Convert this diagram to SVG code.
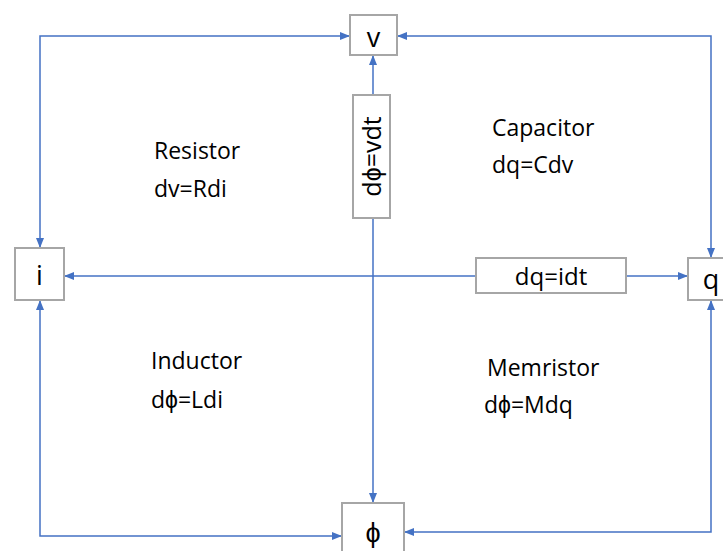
<svg xmlns="http://www.w3.org/2000/svg" width="723" height="551" viewBox="0 0 723 551">
<style>
.box{fill:#fff;stroke:#A6A6A6;stroke-width:2}
.ln{fill:none;stroke:#4472C4;stroke-width:1.5}
.t{font-family:"Open Sans","Liberation Sans",sans-serif;fill:#000}
.lbl{font-size:23px}
.nd{font-size:27px;text-anchor:middle}
</style>
<defs>
<marker id="ah" viewBox="0 0 10 8" refX="10" refY="4" markerWidth="10" markerHeight="8" markerUnits="userSpaceOnUse" orient="auto-start-reverse">
<path d="M0,0 L10,4 L0,8 z" fill="#4472C4"/>
</marker>
</defs>
<rect width="723" height="551" fill="#fff"/>
<g id="connectors">
<path class="ln" d="M350,36 H40 V248" marker-start="url(#ah)" marker-end="url(#ah)"/>
<path class="ln" d="M397,36 H711 V258" marker-start="url(#ah)" marker-end="url(#ah)"/>
<path class="ln" d="M40,300 V536 H342" marker-start="url(#ah)" marker-end="url(#ah)"/>
<path class="ln" d="M711,300 V532 H404" marker-start="url(#ah)" marker-end="url(#ah)"/>
<path class="ln" d="M373,95 V55" marker-end="url(#ah)"/>
<path class="ln" d="M373,218 V503" marker-end="url(#ah)"/>
<path class="ln" d="M476,276 H64" marker-end="url(#ah)"/>
<path class="ln" d="M626,276 H688" marker-end="url(#ah)"/>
</g>
<g id="node-v"><rect class="box" x="350" y="15" width="47" height="40"/><text class="t nd" x="373.5" y="47">v</text></g>
<g id="node-i"><rect class="box" x="15" y="248" width="49" height="52"/><text class="t nd" x="39.5" y="285">i</text></g>
<g id="node-q"><rect class="box" x="688" y="258" width="40" height="42"/><text class="t nd" x="711" y="289">q</text></g>
<g id="node-phi"><rect class="box" x="342" y="503" width="62" height="60"/><text class="t nd" x="373" y="542">ϕ</text></g>
<g id="node-dphi"><rect class="box" x="353" y="95" width="37" height="123"/><text class="t" font-size="25" text-anchor="middle" transform="translate(381,156.5) rotate(-90)">dϕ=vdt</text></g>
<g id="node-dq"><rect class="box" x="476" y="258" width="150" height="35"/><text class="t" font-size="24" text-anchor="middle" x="551" y="285">dq=idt</text></g>
<g id="labels">
<text class="t lbl" x="154" y="159">Resistor</text>
<text class="t lbl" x="154" y="197">dv=Rdi</text>
<text class="t lbl" x="492" y="136">Capacitor</text>
<text class="t lbl" x="492" y="173">dq=Cdv</text>
<text class="t lbl" x="151" y="369">Inductor</text>
<text class="t lbl" x="151" y="408">dϕ=Ldi</text>
<text class="t lbl" x="487" y="376">Memristor</text>
<text class="t lbl" x="484" y="413">dϕ=Mdq</text>
</g>
</svg>
